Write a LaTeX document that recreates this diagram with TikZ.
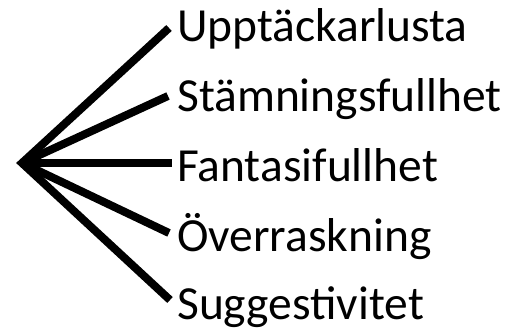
\documentclass[tikz,border=0pt]{standalone}
\usepackage{fontspec}
\setmainfont{Carlito}
\begin{document}
\begin{tikzpicture}[x=1pt,y=1pt,
  lbl/.style={anchor=base west,inner sep=0pt,font=\fontsize{47.5}{56}\selectfont},
  spoke/.style={line width=8pt,line cap=butt,line join=miter}]
\useasboundingbox (0,0) rectangle (508,329);
\coordinate (v) at (22,166);
\node[lbl] (t1) at (177,287) {Upptäckarlusta};
\node[lbl] (t2) at (177,217) {Stämningsfullhet};
\node[lbl] (t3) at (177,147) {Fantasifullhet};
\node[lbl] (t4) at (177,77) {Överraskning};
\node[lbl] (t5) at (177,10) {Suggestivitet};
\coordinate (e1) at (169,301);
\coordinate (e2) at (168,233);
\coordinate (e3) at (172,166);
\coordinate (e4) at (169,96);
\coordinate (e5) at (170,29);
\draw[spoke] (e1) -- (v) -- (e5);
\draw[spoke] (v) -- (e2);
\draw[spoke] (v) -- (e3);
\draw[spoke] (v) -- (e4);
\end{tikzpicture}
\end{document}
